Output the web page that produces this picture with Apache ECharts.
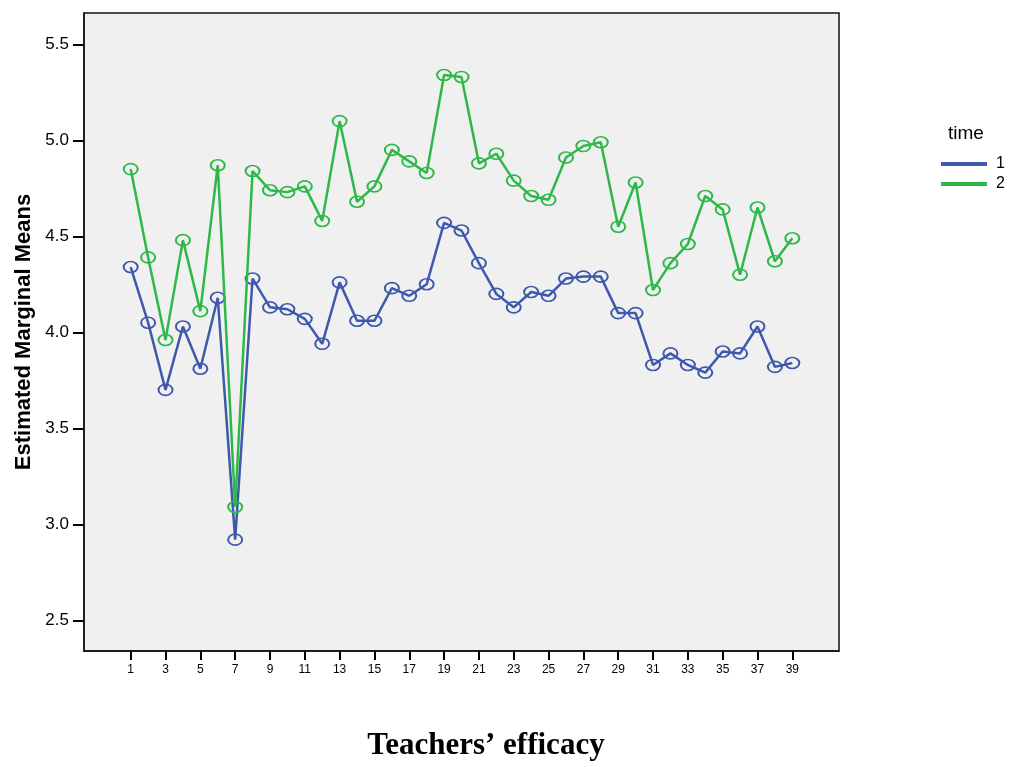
<!DOCTYPE html>
<html>
<head>
<meta charset="utf-8">
<script src="https://cdn.jsdelivr.net/npm/echarts@6/dist/echarts.min.js"></script>
<style>
html,body{margin:0;padding:0;background:#fff;}
#chart{width:1009px;height:767px;}
</style>
</head>
<body>
<div id="chart"></div>
<script>
const efficacy = [1,2,3,4,5,6,7,8,9,10,11,12,13,14,15,16,17,18,19,20,21,22,23,24,25,26,27,28,29,30,31,32,33,34,35,36,37,38,39];
const time1 = [4.34,4.05,3.70,4.03,3.81,4.18,2.92,4.28,4.13,4.12,4.07,3.94,4.26,4.06,4.06,4.23,4.19,4.25,4.57,4.53,4.36,4.20,4.13,4.21,4.19,4.28,4.29,4.29,4.10,4.10,3.83,3.89,3.83,3.79,3.90,3.89,4.03,3.82,3.84];
const time2 = [4.85,4.39,3.96,4.48,4.11,4.87,3.09,4.84,4.74,4.73,4.76,4.58,5.10,4.68,4.76,4.95,4.89,4.83,5.34,5.33,4.88,4.93,4.79,4.71,4.69,4.91,4.97,4.99,4.55,4.78,4.22,4.36,4.46,4.71,4.64,4.30,4.65,4.37,4.49];
const xTicks = [1,3,5,7,9,11,13,15,17,19,21,23,25,27,29,31,33,35,37,39];
const yTicks = [2.5,3.0,3.5,4.0,4.5,5.0,5.5];
const seriesNames = ['1','2'];
const colors = ['#3E58AC','#2EB848'];

const ring = 'path://M0,10A10,10,0,1,0,20,10A10,10,0,1,0,0,10Z';
function pairs(vals){ return efficacy.map((x,i)=>[x, vals[i]]); }

const chart = echarts.init(document.getElementById('chart'), null, {renderer:'canvas'});
chart.setOption({
  animation:false,
  backgroundColor:'#ffffff',
  title:[
    {text:'Teachers\u2019 efficacy', left:486, textAlign:'center', top:730, padding:0,
     textStyle:{fontFamily:'Liberation Serif', fontWeight:'bold', fontSize:31, color:'#000'}},
    {text:'time', left:948, top:124, padding:0,
     textStyle:{fontFamily:'Liberation Sans', fontWeight:'normal', fontSize:19, color:'#000'}}
  ],
  legend:{
    orient:'vertical', left:941, top:156, padding:0, itemWidth:44, itemHeight:2, itemGap:4,
    icon:'rect',
    textStyle:{fontFamily:'Liberation Sans', fontSize:16, color:'#000', lineHeight:16, padding:[0,0,0,5]},
    data:[
      {name:'1', itemStyle:{color:colors[0]}},
      {name:'2', itemStyle:{color:colors[1]}}
    ]
  },
  grid:{left:84, right:170, top:13, bottom:116, show:true, backgroundColor:'#f0f0f0',
        borderColor:'#111', borderWidth:1.5},
  xAxis:{
    type:'value', min:-1.682, max:41.682,
    axisLine:{show:true, onZero:false, lineStyle:{color:'#111', width:1.5}},
    splitLine:{show:false},
    axisTick:{show:true, inside:false, customValues:xTicks, length:9, lineStyle:{color:'#000', width:2}},
    axisLabel:{customValues:xTicks, margin:13, fontFamily:'Liberation Sans', fontSize:12, color:'#000'}
  },
  yAxis:{
    type:'value', min:2.340, max:5.663,
    name:'Estimated Marginal Means', nameLocation:'middle', nameRotate:90, nameGap:47,
    nameTextStyle:{fontFamily:'Liberation Sans Narrow, Liberation Sans', fontWeight:'bold', fontSize:22, color:'#000'},
    axisLine:{show:true, onZero:false, lineStyle:{color:'#111', width:1.5}},
    splitLine:{show:false},
    axisTick:{show:true, inside:false, customValues:yTicks, length:11, lineStyle:{color:'#000', width:2}},
    axisLabel:{customValues:yTicks, margin:15, fontFamily:'Liberation Sans', fontSize:17, color:'#000',
               formatter:v=>Number(v).toFixed(1)}
  },
  series:[
    {name:seriesNames[0], type:'line', data:pairs(time1), symbol:ring, symbolSize:[14,11],
     lineStyle:{color:colors[0], width:2.5},
     itemStyle:{color:'rgba(0,0,0,0)', borderColor:colors[0], borderWidth:1.8}, z:2},
    {name:seriesNames[1], type:'line', data:pairs(time2), symbol:ring, symbolSize:[14,11],
     lineStyle:{color:colors[1], width:2.5},
     itemStyle:{color:'rgba(0,0,0,0)', borderColor:colors[1], borderWidth:1.8}, z:3}
  ]
});
</script>
</body>
</html>
